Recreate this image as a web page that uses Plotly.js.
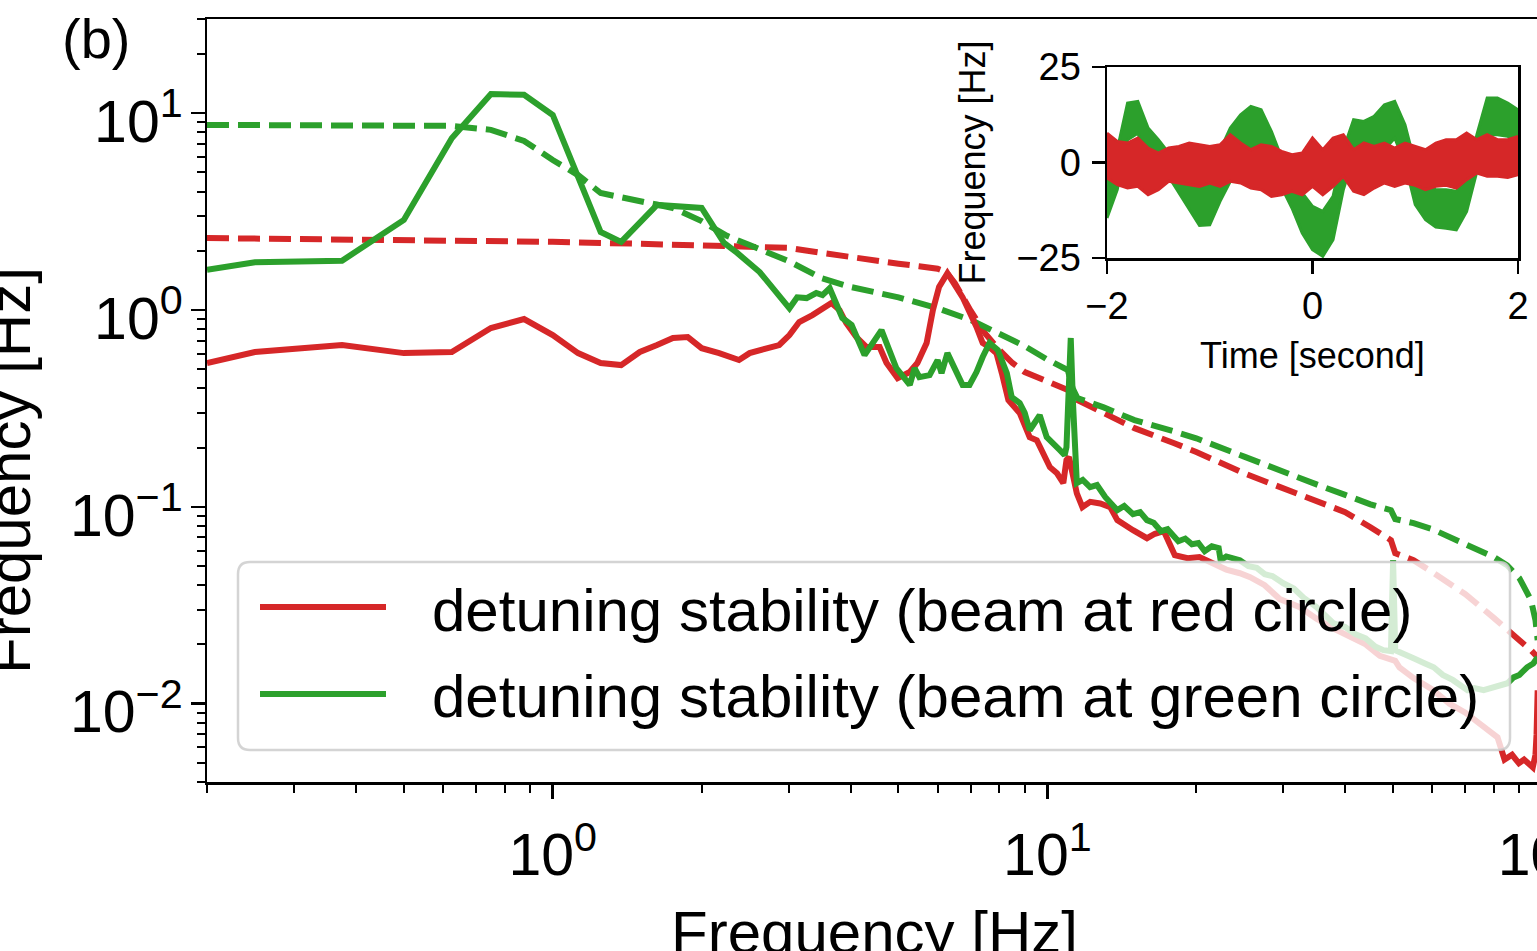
<!DOCTYPE html>
<html>
<head>
<meta charset="utf-8">
<script src="https://cdn.plot.ly/plotly-3.0.1.min.js"></script>
<style>
html,body{margin:0;padding:0;overflow:hidden;background:#fff;width:1537px;height:951px}
#chart{width:1600px;height:1000px}
</style>
</head>
<body>
<div id="chart"></div>
<script>
// ---------------- main panel: spectra (frequency in Hz, value in Hz) ----------------
const redFreq = [0.2,0.25,0.375,0.5,0.625,0.75,0.875,1.0,1.125,1.25,1.375,1.5,1.625,1.75,1.875,2.0,2.17,2.31,2.38,2.5,2.74,2.87,3.01,3.15,3.35,3.51,3.66,3.8,3.92,4.11,4.31,4.58,4.73,4.98,5.27,5.46,5.7,5.87,6.04,6.28,6.55,6.74,7.19,7.4,7.64,7.89,8.09,8.34,8.79,9.21,9.52,9.79,10.12,10.46,10.77,10.93,11.06,11.47,11.77,12.21,12.79,13.4,13.85,14.9,15.9,16.5,17.2,18.1,19.2,20.3,21.5,23,24.5,25.7,27.5,29.5,32.4,35,38,40.8,44,47,49.5,50.5,51.5,55,60,65,70,76.2,81.3,84,87,89.8,92,95.8,97,97.5,98];
const redSpec = [0.538,0.612,0.664,0.604,0.612,0.81,0.9,0.746,0.604,0.538,0.525,0.612,0.664,0.721,0.729,0.64,0.604,0.577,0.557,0.604,0.641,0.664,0.746,0.869,0.943,1.02,1.085,1.0,0.859,0.729,0.648,0.648,0.538,0.451,0.484,0.538,0.68,1.0,1.31,1.54,1.31,1.16,0.82,0.68,0.648,0.604,0.478,0.349,0.3,0.226,0.218,0.187,0.159,0.148,0.132,0.173,0.179,0.117,0.0997,0.106,0.104,0.0997,0.0856,0.0761,0.0693,0.073,0.0752,0.0568,0.0548,0.0556,0.052,0.048,0.046,0.0439,0.04,0.034,0.0309,0.027,0.024,0.0218,0.02,0.0175,0.0168,0.0165,0.0153,0.0135,0.0118,0.01,0.009,0.00759,0.00675,0.0052,0.0055,0.00498,0.0052,0.00475,0.0055,0.007,0.0117];

const greenFreq = [0.2,0.25,0.375,0.5,0.625,0.75,0.875,1.0,1.25,1.375,1.625,1.875,2.0,2.22,2.36,2.62,3.01,3.12,3.26,3.41,3.51,3.63,3.85,4.02,4.27,4.62,4.95,5.27,5.39,5.51,5.78,6.0,6.11,6.28,6.49,6.74,6.96,7.19,7.4,7.64,7.94,8.28,8.47,8.79,9.0,9.21,9.65,9.97,10.6,10.84,10.93,11.15,11.26,11.47,11.79,12.2,12.6,13.1,13.85,14.3,14.9,15.4,15.9,16.4,16.97,17.5,18.4,19.0,19.6,20.2,20.8,21.5,22.2,22.4,23.0,24.5,25.5,26.5,27.5,28.5,30.0,31.5,33,35,37.9,40,42,44,46,47.8,49.5,50,50.5,52,55,58,60.4,63,66,70.7,73,76.2,79,82,85.2,87.6,90,93.3,96,98];
const greenSpec = [1.6,1.75,1.78,2.87,7.46,12.5,12.4,9.8,2.49,2.22,3.42,3.3,3.3,2.19,1.95,1.56,1.02,1.16,1.15,1.22,1.19,1.29,0.911,0.839,0.59,0.791,0.507,0.416,0.507,0.456,0.467,0.557,0.478,0.604,0.513,0.416,0.416,0.484,0.577,0.68,0.626,0.478,0.361,0.337,0.3,0.245,0.292,0.226,0.194,0.183,0.201,0.721,0.349,0.132,0.137,0.126,0.129,0.112,0.0962,0.101,0.0918,0.094,0.0856,0.083,0.0752,0.077,0.0669,0.069,0.0646,0.0655,0.0595,0.063,0.0617,0.0536,0.056,0.0536,0.05,0.049,0.0455,0.0445,0.0409,0.0385,0.0345,0.031,0.0256,0.0245,0.0225,0.0215,0.0195,0.0187,0.0185,0.0536,0.0187,0.018,0.017,0.016,0.0153,0.014,0.0132,0.0117,0.012,0.0117,0.012,0.0125,0.0127,0.0136,0.014,0.0153,0.016,0.0172];

// integrated (cumulative) curves, dashed
const redCumFreq = [0.2,0.5,1.0,1.5,2.0,2.5,3.0,3.5,4.0,4.5,5.0,5.5,6.0,6.25,6.5,7.0,7.5,8.0,8.5,9.0,10,11,11.5,13,15,18,20,25,30,35,40,45,49.5,50.5,55,60,70,80,85,90,95,98];
const redCum = [2.32,2.27,2.22,2.17,2.14,2.12,2.07,1.95,1.85,1.78,1.72,1.67,1.62,1.56,1.37,0.99,0.755,0.626,0.538,0.484,0.43,0.392,0.349,0.3,0.251,0.211,0.19,0.148,0.124,0.108,0.094,0.0788,0.0677,0.0581,0.0536,0.0466,0.036,0.0272,0.0236,0.021,0.0187,0.0172];

const greenCumFreq = [0.2,0.5,0.625,0.75,0.875,1.0,1.125,1.25,1.5,1.75,2.0,2.25,2.5,3.0,3.5,4.0,5.0,6.0,7.0,8.0,9.0,10,11,11.25,11.5,13,15,18,20,25,30,35,40,45,49.5,50.5,55,60,70,80,85,90,95,97,98];
const greenCum = [8.72,8.72,8.62,8.23,7.23,5.78,4.85,3.93,3.58,3.30,2.83,2.38,2.14,1.77,1.45,1.31,1.16,1.02,0.89,0.764,0.655,0.56,0.495,0.40,0.357,0.32,0.276,0.242,0.223,0.18,0.15,0.13,0.115,0.103,0.0962,0.0867,0.0826,0.077,0.0646,0.0555,0.0505,0.0434,0.0336,0.0266,0.021];

// ---------------- inset: time traces (envelopes of the dense noisy traces) ----------------
const timeSec = [-2.0,-1.9,-1.8,-1.7,-1.6,-1.5,-1.4,-1.3,-1.2,-1.1,-1.0,-0.9,-0.8,-0.7,-0.6,-0.5,-0.4,-0.3,-0.2,-0.1,0.0,0.1,0.2,0.3,0.4,0.5,0.6,0.7,0.8,0.9,1.0,1.1,1.2,1.3,1.4,1.5,1.6,1.7,1.8,1.9,2.0];
const greenUpper = [-5.81,3.35,15.58,16.0,9.02,5.97,2.48,1.61,-0.58,-3.6,-2.8,2.92,9.02,12.51,14.69,13.82,8.15,1.17,-4.06,-7.98,-11.47,-12.79,-8.86,3.35,11.2,10.77,12.08,15.13,16.0,9.9,-0.58,-5.37,-7.12,-7.12,-7.55,-4.06,7.28,16.87,16.87,15.56,13.82];
const greenLower = [-14.54,-7.12,5.97,7.68,0.73,-0.58,-3.63,-7.99,-12.36,-16.5,-16.3,-10.17,-4.94,1.17,2.91,2.04,-1.01,-6.69,-11.92,-18.45,-22.8,-24.56,-20.19,-7.12,1.61,2.04,1.61,3.35,6.4,-0.14,-11.03,-14.96,-16.9,-17.2,-17.66,-12.79,-2.3,7.28,7.28,6.85,5.53];
const redUpper = [7.71,5.53,5.1,6.4,3.78,2.48,3.78,4.22,5.1,4.66,4.22,4.66,7.28,5.1,3.35,4.66,4.22,2.92,2.04,2.48,6.4,3.35,6.4,7.28,3.35,5.1,4.22,5.1,3.78,5.1,4.22,3.35,5.1,5.97,5.97,7.71,5.97,7.28,5.97,5.97,6.84];
const redLower = [-4.06,-5.81,-6.69,-6.24,-8.43,-7.12,-4.94,-5.37,-5.81,-6.24,-5.37,-6.24,-4.94,-5.37,-6.69,-7.12,-8.86,-8.43,-7.55,-8.43,-6.24,-8.43,-6.24,-3.63,-7.55,-8.43,-6.69,-5.37,-6.24,-5.37,-5.97,-7.12,-6.24,-5.97,-6.69,-4.5,-2.75,-3.63,-3.63,-3.89,-3.19];

// ---------------- labels ----------------
const legendLabels = ['detuning stability (beam at red circle)', 'detuning stability (beam at green circle)'];
const xTickVals = [1, 10, 100];
const xTickText = ['10<sup>0</sup>', '10<sup>1</sup>', '10<sup>2</sup>'];
const yTickVals = [0.01, 0.1, 1, 10];
const yTickText = ['10<sup>\u22122</sup>', '10<sup>\u22121</sup>', '10<sup>0</sup>', '10<sup>1</sup>'];

// ---------------- styling ----------------
const RED = '#d62728', GREEN = '#2ca02c';
const FONT = 'Liberation Sans, Arial, Helvetica, sans-serif';
const W = 1600, H = 1000, ML = 207, MR = 58, MT = 19, MB = 218;
const PW = W - ML - MR, PH = H - MT - MB;
const px = v => (v - ML) / PW;          // page x -> paper x
const py = v => (H - MB - v) / PH;      // page y -> paper y
const DASH = '22px,9px';
const LW = 6;

const traces = [
  {x: redCumFreq, y: redCum, mode: 'lines', line: {color: RED, width: LW, dash: DASH}, hoverinfo: 'skip', name: 'red integrated'},
  {x: greenCumFreq, y: greenCum, mode: 'lines', line: {color: GREEN, width: LW, dash: DASH}, hoverinfo: 'skip', name: 'green integrated'},
  {x: redFreq, y: redSpec, mode: 'lines', line: {color: RED, width: LW}, name: legendLabels[0]},
  {x: greenFreq, y: greenSpec, mode: 'lines', line: {color: GREEN, width: LW}, name: legendLabels[1]},
  {x: timeSec, y: greenUpper, xaxis: 'x2', yaxis: 'y2', mode: 'lines', line: {color: GREEN, width: 3}},
  {x: timeSec, y: greenLower, xaxis: 'x2', yaxis: 'y2', mode: 'lines', line: {color: GREEN, width: 3}, fill: 'tonexty', fillcolor: GREEN},
  {x: timeSec, y: redUpper, xaxis: 'x2', yaxis: 'y2', mode: 'lines', line: {color: RED, width: 3}},
  {x: timeSec, y: redLower, xaxis: 'x2', yaxis: 'y2', mode: 'lines', line: {color: RED, width: 3}, fill: 'tonexty', fillcolor: RED}
];

const axCommon = {
  showgrid: false, zeroline: false, showline: true, mirror: true,
  linecolor: '#000', linewidth: 2.5, ticks: 'outside', tickcolor: '#000', tickwidth: 2.5,
  tickfont: {family: FONT, size: 59, color: '#000'}
};

// legend box (rounded rectangle, drawn over the curves like matplotlib's framed legend)
const lx0 = px(238), lx1 = px(1510), ly0 = py(750), ly1 = py(562);
const rx = 12 / PW, ry = 12 / PH;
const legendPath = `M${lx0+rx},${ly0} L${lx1-rx},${ly0} Q${lx1},${ly0} ${lx1},${ly0+ry} L${lx1},${ly1-ry} Q${lx1},${ly1} ${lx1-rx},${ly1} L${lx0+rx},${ly1} Q${lx0},${ly1} ${lx0},${ly1-ry} L${lx0},${ly0+ry} Q${lx0},${ly0} ${lx0+rx},${ly0} Z`;

const layout = {
  width: W, height: H,
  margin: {l: ML, r: MR, t: MT, b: MB, pad: 0},
  paper_bgcolor: '#fff', plot_bgcolor: 'rgba(0,0,0,0)',
  showlegend: false,
  font: {family: FONT, color: '#000'},
  xaxis: Object.assign({}, axCommon, {
    type: 'log', range: [Math.log10(0.2), 2],
    tickmode: 'array', tickvals: xTickVals, ticktext: xTickText, ticklen: 14,
    ticklabelstandoff: 6,
    minor: {dtick: 'D1', ticks: 'outside', ticklen: 8, tickwidth: 2, tickcolor: '#000', showgrid: false},
    title: {text: 'Frequency [Hz]', font: {family: FONT, size: 60, color: '#000'}, standoff: 24}
  }),
  yaxis: Object.assign({}, axCommon, {
    type: 'log', range: [Math.log10(0.004), Math.log10(30.1)],
    tickmode: 'array', tickvals: yTickVals, ticktext: yTickText, ticklen: 14,
    ticklabelshift: 8, ticklabelstandoff: -4,
    minor: {dtick: 'D1', ticks: 'outside', ticklen: 8, tickwidth: 2, tickcolor: '#000', showgrid: false}
  }),
  xaxis2: Object.assign({}, axCommon, {
    domain: [px(1107), px(1518)], anchor: 'y2', range: [-2, 2],
    tickmode: 'array', tickvals: [-2, 0, 2], ticklen: 13,
    tickfont: {family: FONT, size: 38, color: '#000'},
    title: {text: 'Time [second]', font: {family: FONT, size: 36, color: '#000'}, standoff: 17}
  }),
  yaxis2: Object.assign({}, axCommon, {
    domain: [py(258), py(67)], anchor: 'x2', range: [-25, 25],
    tickmode: 'array', tickvals: [-25, 0, 25], ticklen: 13, ticklabelstandoff: 3,
    tickfont: {family: FONT, size: 38, color: '#000'},
    title: {text: 'Frequency [Hz]', font: {family: FONT, size: 36, color: '#000'}, standoff: 20}
  }),
  shapes: [
    {type: 'path', xref: 'paper', yref: 'paper', path: legendPath, layer: 'above',
     fillcolor: 'rgba(255,255,255,0.8)', line: {color: 'rgba(204,204,204,0.85)', width: 2.5}},
    {type: 'line', xref: 'paper', yref: 'paper', layer: 'above', x0: px(260), x1: px(386), y0: py(607), y1: py(607), line: {color: RED, width: LW}},
    {type: 'line', xref: 'paper', yref: 'paper', layer: 'above', x0: px(260), x1: px(386), y0: py(694), y1: py(694), line: {color: GREEN, width: LW}}
  ],
  annotations: [
    {xref: 'paper', yref: 'paper', x: px(430), y: py(610), xanchor: 'left', yanchor: 'middle', showarrow: false,
     text: legendLabels[0], font: {family: FONT, size: 60, color: '#000'}},
    {xref: 'paper', yref: 'paper', x: px(430), y: py(696), xanchor: 'left', yanchor: 'middle', showarrow: false,
     text: legendLabels[1], font: {family: FONT, size: 60, color: '#000'}},
    {xref: 'paper', yref: 'paper', x: px(60), y: py(38), xanchor: 'left', yanchor: 'middle', showarrow: false,
     text: '(b)', font: {family: FONT, size: 56, color: '#000'}},
    {xref: 'paper', yref: 'paper', x: px(9), y: py(471), xanchor: 'center', yanchor: 'middle', showarrow: false,
     textangle: -90, text: 'Frequency [Hz]', font: {family: FONT, size: 60, color: '#000'}}
  ]
};

Plotly.newPlot('chart', traces, layout, {displayModeBar: false, staticPlot: true});
</script>
</body>
</html>
